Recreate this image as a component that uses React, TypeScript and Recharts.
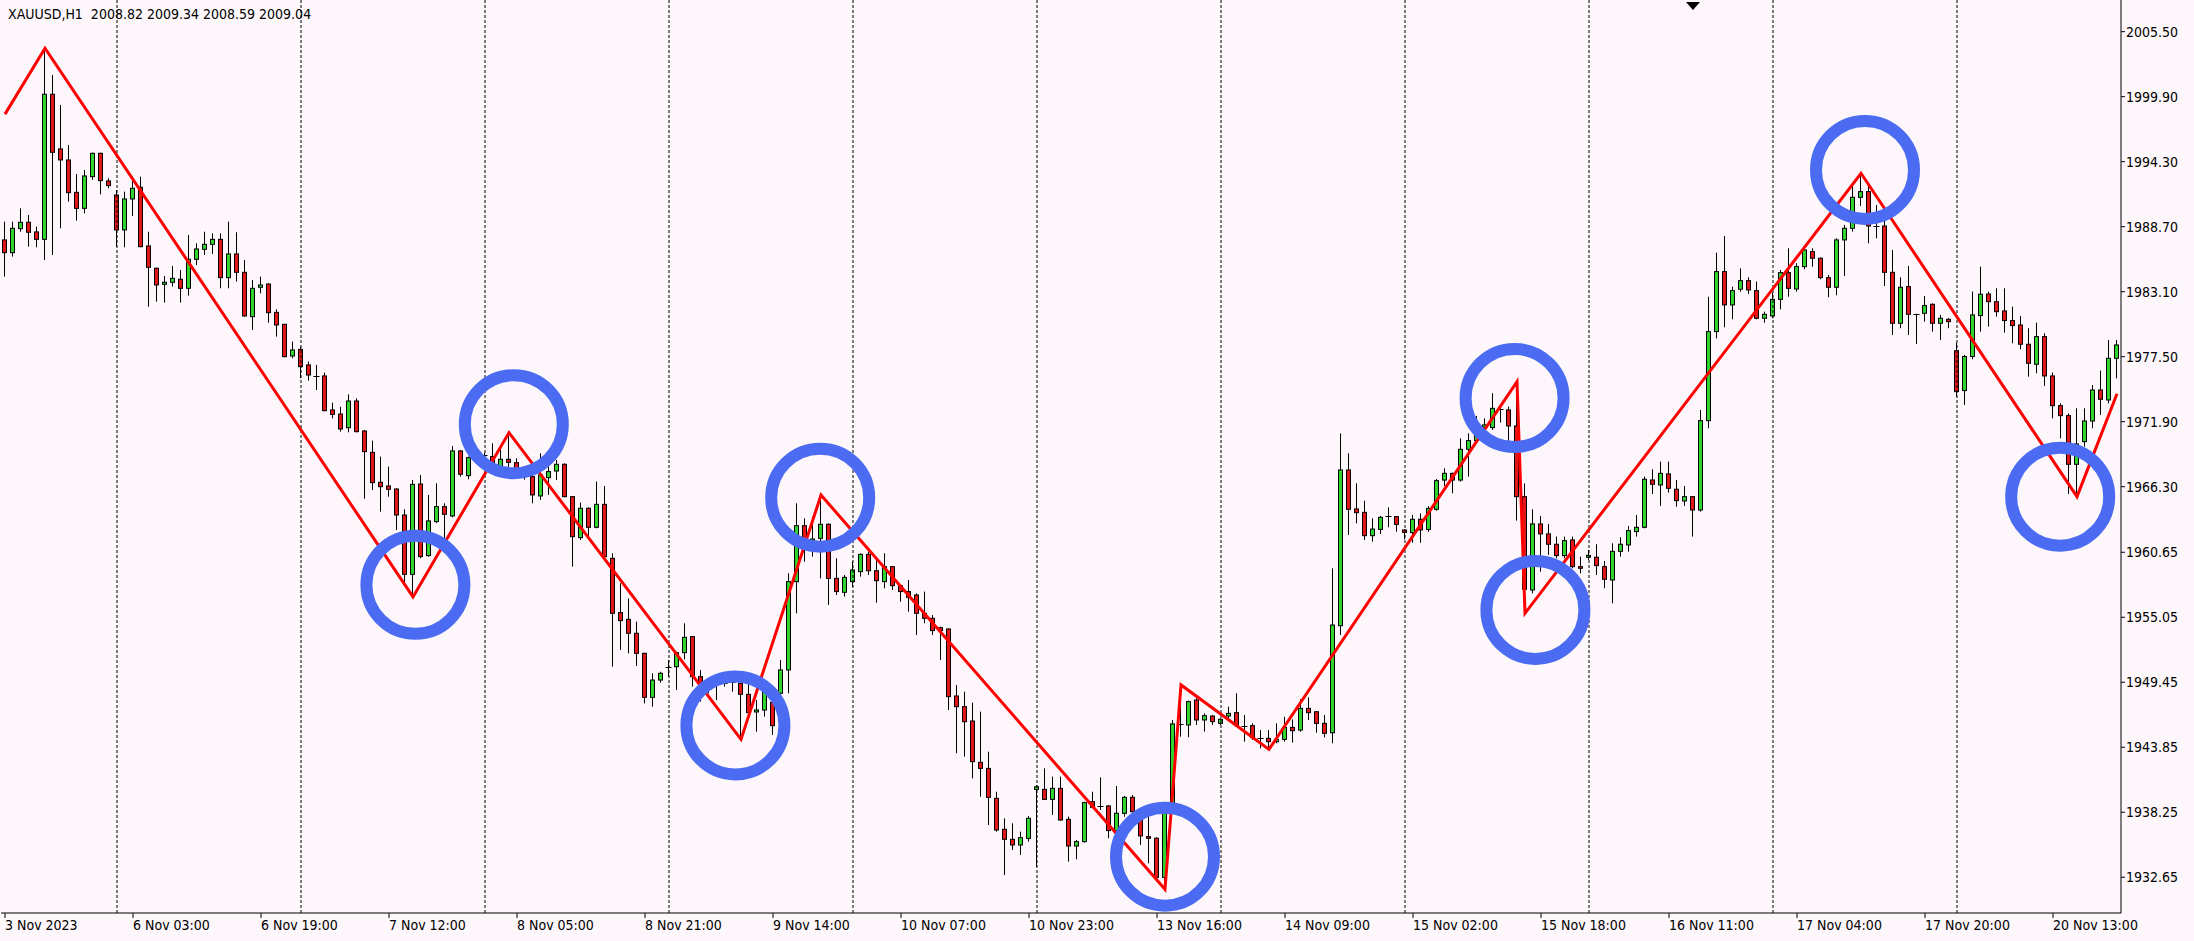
import { ComposedChart, Bar, Line, XAxis, YAxis, ReferenceLine, ReferenceDot } from 'recharts';

// XAUUSD H1, 3 Nov 10:00 .. 20 Nov 21:00 (one entry per hourly bar)
const OPEN = [
  1987.56, 1986.46, 1988.53, 1989.08, 1988.25, 1987.61, 2000.11, 1995.40, 1994.45, 1991.66,
  1990.28, 1993.01, 1995.02, 1992.64, 1991.43, 1988.42, 1991.09, 1992.09, 1987.04, 1985.12,
  1983.74, 1983.91, 1984.17, 1983.39, 1985.89, 1986.75, 1987.18, 1987.61, 1984.31, 1986.35,
  1984.77, 1980.95, 1983.48, 1983.76, 1981.32, 1980.29, 1977.56, 1978.13, 1976.79, 1975.87,
  1975.84, 1972.91, 1972.56, 1971.38, 1973.68, 1971.10, 1969.26, 1966.68, 1966.36, 1966.10,
  1963.86, 1958.75, 1966.53, 1960.36, 1963.29, 1964.58, 1963.78, 1969.38, 1967.25, 1968.80,
  1968.95, 1968.89, 1968.03, 1968.66, 1968.37, 1967.80, 1967.17, 1965.50, 1967.08, 1967.65,
  1968.23, 1965.44, 1961.91, 1964.44, 1962.80, 1964.78, 1960.13, 1955.45, 1954.87, 1953.67,
  1951.94, 1948.15, 1949.64, 1950.79, 1950.79, 1952.00, 1953.38, 1949.93, 1948.90, 1949.36,
  1949.41, 1949.41, 1949.36, 1948.41, 1946.89, 1947.06, 1947.72, 1948.50, 1950.51, 1958.12,
  1962.94, 1961.51, 1961.85, 1963.06, 1958.40, 1957.20, 1958.12, 1958.98, 1960.47, 1959.06,
  1958.12, 1959.41, 1957.77, 1957.26, 1956.97, 1955.39, 1954.96, 1954.15, 1954.04, 1948.27,
  1947.35, 1946.11, 1942.55, 1942.03, 1939.45, 1936.78, 1935.92, 1935.43, 1936.00, 1940.22,
  1940.22, 1939.36, 1940.31, 1937.64, 1935.34, 1935.72, 1939.16, 1938.76, 1938.79, 1936.67,
  1938.16, 1939.54, 1937.81, 1936.15, 1936.01, 1932.64, 1938.40, 1945.83, 1945.77, 1947.92,
  1946.20, 1946.54, 1945.91, 1946.54, 1946.83, 1945.71, 1945.71, 1944.67, 1944.62, 1944.33,
  1944.53, 1945.56, 1945.33, 1947.20, 1946.91, 1945.91, 1945.10, 1954.32, 1967.74, 1964.38,
  1964.09, 1962.08, 1962.62, 1963.71, 1963.72, 1962.57, 1962.34, 1963.49, 1962.62, 1964.35,
  1966.87, 1967.45, 1966.87, 1969.52, 1970.27, 1971.42, 1971.39, 1972.96, 1972.91, 1971.53,
  1965.44, 1957.40, 1963.09, 1962.23, 1961.34, 1960.36, 1961.71, 1959.41, 1960.22, 1960.22,
  1959.41, 1958.26, 1960.73, 1961.28, 1962.43, 1962.80, 1966.88, 1966.45, 1967.40, 1966.08,
  1965.07, 1965.44, 1964.29, 1971.99, 1979.66, 1984.83, 1981.96, 1983.31, 1984.05, 1983.19,
  1980.81, 1981.01, 1982.44, 1984.74, 1983.33, 1985.26, 1986.55, 1985.98, 1984.31, 1983.48,
  1987.56, 1988.56, 1991.23, 1991.72, 1988.76, 1988.76, 1984.77, 1980.38, 1983.54, 1981.15,
  1981.24, 1982.01, 1980.38, 1980.72, 1978.02, 1974.58, 1977.51, 1981.04, 1982.90, 1982.24,
  1981.44, 1980.61, 1980.23, 1978.57, 1976.85, 1979.23, 1975.84, 1973.28, 1972.42, 1968.23,
  1970.18, 1971.96, 1974.63, 1973.77, 1977.36,
];
const HIGH = [
  1989.13, 1989.13, 1990.28, 1989.71, 1988.70, 2004.07, 2001.77, 1999.19, 1995.74, 1993.24,
  1993.59, 1995.08, 1995.08, 1992.87, 1991.86, 1991.72, 1993.01, 1993.01, 1988.27, 1985.17,
  1984.45, 1985.32, 1984.97, 1987.99, 1987.27, 1988.27, 1988.13, 1988.13, 1989.13, 1988.22,
  1985.83, 1984.11, 1984.40, 1983.82, 1981.58, 1980.32, 1978.80, 1978.36, 1977.07, 1976.79,
  1976.12, 1973.54, 1973.19, 1974.26, 1973.91, 1971.18, 1970.27, 1968.89, 1968.03, 1966.16,
  1964.35, 1966.88, 1967.31, 1965.59, 1966.59, 1964.87, 1969.81, 1969.46, 1968.89, 1969.40,
  1969.23, 1970.04, 1969.61, 1970.96, 1968.75, 1968.00, 1967.31, 1969.18, 1968.03, 1968.60,
  1968.31, 1965.50, 1964.93, 1964.52, 1966.74, 1966.36, 1960.56, 1957.98, 1956.68, 1954.67,
  1952.00, 1950.22, 1950.36, 1951.37, 1952.09, 1954.53, 1953.44, 1950.51, 1949.30, 1949.50,
  1949.64, 1949.64, 1949.64, 1949.50, 1947.92, 1949.50, 1947.98, 1951.37, 1958.84, 1964.87,
  1963.57, 1963.72, 1965.58, 1963.14, 1960.13, 1958.69, 1959.84, 1960.56, 1960.70, 1959.98,
  1960.56, 1959.47, 1957.83, 1958.26, 1957.11, 1957.26, 1955.24, 1954.24, 1954.10, 1949.21,
  1948.64, 1947.69, 1946.92, 1943.47, 1940.02, 1937.73, 1937.30, 1936.58, 1937.93, 1940.60,
  1942.03, 1941.32, 1941.32, 1937.87, 1935.86, 1939.16, 1940.02, 1941.26, 1938.88, 1940.51,
  1939.65, 1939.74, 1937.93, 1937.93, 1936.09, 1938.36, 1946.20, 1949.22, 1947.87, 1948.07,
  1946.77, 1946.63, 1946.34, 1947.35, 1948.50, 1946.63, 1945.91, 1945.33, 1945.33, 1945.91,
  1946.48, 1946.25, 1947.98, 1948.15, 1946.97, 1946.63, 1959.26, 1970.89, 1969.17, 1966.59,
  1965.09, 1963.57, 1963.77, 1964.52, 1963.77, 1962.62, 1963.86, 1964.00, 1964.63, 1966.96,
  1967.88, 1967.51, 1970.46, 1970.90, 1972.40, 1972.19, 1974.35, 1973.20, 1973.20, 1975.35,
  1966.59, 1964.35, 1963.78, 1963.09, 1962.00, 1962.00, 1962.00, 1960.27, 1960.85, 1961.34,
  1959.90, 1961.42, 1961.94, 1962.92, 1963.86, 1967.17, 1967.80, 1968.46, 1968.46, 1966.88,
  1966.36, 1965.50, 1972.91, 1982.67, 1986.46, 1987.90, 1983.53, 1985.11, 1984.34, 1983.97,
  1981.38, 1983.02, 1984.97, 1986.84, 1985.55, 1986.98, 1986.84, 1986.06, 1984.54, 1987.70,
  1988.85, 1992.44, 1993.30, 1992.44, 1990.57, 1989.71, 1986.70, 1984.34, 1985.32, 1981.20,
  1982.73, 1982.10, 1981.10, 1980.81, 1978.71, 1977.65, 1983.11, 1985.26, 1983.11, 1983.39,
  1983.39, 1981.81, 1981.01, 1979.95, 1980.43, 1979.52, 1976.13, 1973.48, 1972.62, 1973.05,
  1973.05, 1975.06, 1976.30, 1978.94, 1978.94,
];
const LOW = [
  1984.40, 1986.12, 1988.27, 1986.98, 1986.92, 1985.83, 1986.26, 1988.56, 1990.86, 1989.22,
  1989.85, 1992.73, 1991.49, 1992.01, 1986.98, 1986.92, 1989.62, 1986.92, 1981.81, 1982.24,
  1982.16, 1983.54, 1982.16, 1982.76, 1985.40, 1986.26, 1986.35, 1983.39, 1983.39, 1983.97,
  1980.95, 1979.80, 1982.96, 1980.43, 1979.23, 1977.45, 1977.36, 1975.64, 1975.44, 1974.63,
  1972.79, 1972.19, 1971.04, 1970.98, 1970.98, 1965.26, 1966.01, 1964.15, 1965.44, 1962.57,
  1958.03, 1956.80, 1960.13, 1960.27, 1963.15, 1961.71, 1963.66, 1967.17, 1966.94, 1968.30,
  1968.60, 1967.74, 1967.88, 1967.74, 1967.60, 1966.90, 1964.87, 1965.16, 1965.59, 1966.88,
  1965.39, 1959.41, 1961.71, 1961.99, 1962.71, 1960.13, 1950.80, 1952.23, 1951.94, 1950.85,
  1947.63, 1947.35, 1949.41, 1949.93, 1948.78, 1951.43, 1949.07, 1947.78, 1948.50, 1947.92,
  1949.07, 1948.64, 1944.53, 1946.20, 1945.19, 1946.49, 1944.91, 1948.21, 1948.50, 1955.39,
  1959.84, 1960.27, 1958.40, 1956.11, 1956.97, 1956.83, 1957.69, 1958.55, 1958.69, 1956.31,
  1957.54, 1957.40, 1956.39, 1955.53, 1953.52, 1954.53, 1953.52, 1951.37, 1947.06, 1943.33,
  1943.04, 1941.17, 1939.59, 1937.15, 1936.58, 1932.84, 1935.00, 1934.57, 1935.72, 1933.56,
  1939.30, 1938.02, 1937.53, 1933.99, 1934.20, 1935.63, 1938.59, 1938.45, 1936.01, 1936.58,
  1937.87, 1938.22, 1935.43, 1933.85, 1932.56, 1931.61, 1938.30, 1944.76, 1944.71, 1945.77,
  1945.20, 1945.77, 1945.77, 1946.34, 1945.63, 1944.33, 1944.48, 1943.75, 1943.67, 1944.19,
  1944.33, 1944.25, 1945.19, 1946.20, 1945.10, 1944.70, 1944.19, 1953.52, 1962.14, 1963.14,
  1961.71, 1961.56, 1962.22, 1962.80, 1962.42, 1961.76, 1961.47, 1961.47, 1962.42, 1964.23,
  1966.36, 1965.73, 1966.73, 1967.17, 1970.10, 1971.19, 1971.19, 1971.82, 1970.04, 1963.38,
  1955.39, 1957.11, 1958.98, 1960.42, 1960.13, 1960.13, 1959.27, 1958.84, 1959.99, 1958.69,
  1957.55, 1956.25, 1960.27, 1960.70, 1962.00, 1962.71, 1965.67, 1964.64, 1965.79, 1964.58,
  1964.64, 1962.00, 1964.15, 1971.33, 1979.08, 1980.03, 1980.72, 1983.10, 1982.90, 1980.72,
  1980.43, 1980.81, 1981.58, 1982.67, 1983.10, 1985.03, 1985.26, 1984.17, 1982.62, 1982.79,
  1984.45, 1988.27, 1990.49, 1987.27, 1987.70, 1983.59, 1979.37, 1979.95, 1979.37, 1978.60,
  1980.52, 1979.66, 1978.94, 1979.95, 1974.06, 1973.34, 1977.28, 1979.66, 1980.09, 1980.95,
  1979.57, 1978.65, 1978.14, 1975.78, 1976.07, 1974.98, 1972.19, 1970.47, 1965.67, 1965.44,
  1969.75, 1971.33, 1972.48, 1973.48, 1975.64,
];
const CLOSE = [
  1986.46, 1988.56, 1989.08, 1988.22, 1987.61, 2000.11, 1995.11, 1994.45, 1991.63, 1990.28,
  1993.07, 1995.02, 1992.67, 1992.24, 1988.42, 1991.09, 1992.01, 1986.98, 1985.20, 1983.68,
  1983.91, 1984.25, 1983.39, 1985.89, 1986.78, 1987.18, 1987.61, 1984.31, 1986.35, 1984.77,
  1981.01, 1983.39, 1983.68, 1981.29, 1980.23, 1977.50, 1978.08, 1976.64, 1975.92, 1975.84,
  1972.85, 1972.53, 1971.27, 1973.68, 1971.04, 1969.32, 1966.65, 1966.30, 1966.07, 1963.86,
  1958.75, 1966.50, 1960.27, 1963.35, 1964.58, 1963.92, 1969.38, 1967.37, 1968.80, 1969.00,
  1969.00, 1968.23, 1968.66, 1968.40, 1967.80, 1967.17, 1965.59, 1967.31, 1967.60, 1968.23,
  1965.44, 1961.99, 1964.44, 1962.80, 1964.78, 1960.27, 1955.39, 1954.76, 1953.67, 1951.94,
  1948.15, 1949.64, 1950.22, 1950.76, 1952.00, 1953.32, 1949.93, 1949.30, 1948.85, 1949.30,
  1949.38, 1949.44, 1948.41, 1946.83, 1947.06, 1948.70, 1945.71, 1950.51, 1958.12, 1962.94,
  1961.71, 1961.79, 1963.06, 1958.40, 1957.26, 1958.49, 1959.12, 1960.47, 1959.06, 1958.20,
  1959.41, 1957.77, 1957.26, 1956.77, 1955.39, 1954.96, 1953.90, 1953.90, 1948.21, 1947.35,
  1946.05, 1942.61, 1942.03, 1939.53, 1936.72, 1935.92, 1935.43, 1936.06, 1937.73, 1940.45,
  1939.36, 1940.31, 1937.58, 1935.34, 1935.72, 1939.08, 1938.68, 1938.72, 1936.67, 1938.16,
  1939.54, 1938.30, 1936.21, 1936.01, 1932.64, 1938.30, 1945.86, 1945.80, 1947.78, 1946.20,
  1946.57, 1946.06, 1946.26, 1946.77, 1945.71, 1945.68, 1944.68, 1944.64, 1944.33, 1944.53,
  1945.56, 1945.28, 1947.20, 1946.83, 1945.91, 1945.05, 1954.38, 1967.74, 1964.35, 1964.06,
  1962.08, 1962.65, 1963.66, 1963.74, 1963.05, 1962.36, 1963.49, 1962.57, 1964.43, 1966.82,
  1967.45, 1966.87, 1969.52, 1970.27, 1971.42, 1971.62, 1973.05, 1973.00, 1971.53, 1965.44,
  1957.46, 1963.09, 1962.23, 1961.34, 1960.36, 1961.65, 1959.41, 1959.27, 1960.39, 1959.50,
  1958.32, 1960.73, 1961.34, 1962.51, 1962.80, 1966.94, 1966.51, 1967.45, 1966.16, 1965.10,
  1965.44, 1964.29, 1971.99, 1979.66, 1984.83, 1981.96, 1983.19, 1984.05, 1983.25, 1980.81,
  1981.15, 1982.44, 1984.74, 1983.39, 1985.26, 1986.69, 1985.98, 1984.31, 1983.48, 1987.56,
  1988.56, 1991.23, 1991.72, 1988.76, 1988.65, 1984.77, 1980.38, 1983.48, 1981.15, 1981.10,
  1981.90, 1980.38, 1980.81, 1980.52, 1974.49, 1977.51, 1981.10, 1982.88, 1982.24, 1981.38,
  1980.61, 1980.18, 1978.57, 1976.93, 1979.23, 1975.84, 1973.28, 1972.42, 1968.23, 1969.98,
  1971.96, 1974.63, 1973.83, 1977.36, 1978.51,
];

// zigzag vertices (bar index, price)
const ZZ_INDEX = [0, 5, 51, 63, 92, 102, 145, 147, 158, 189, 190, 232, 259, 264];
const ZZ_PRICE = [1998.4, 2004.07, 1956.8, 1970.96, 1944.53, 1965.58, 1931.61, 1949.22, 1943.67, 1975.35, 1955.39, 1993.3, 1965.44, 1974.3];

// blue rings drawn around swing points
const CIRCLE_X = [51.3, 63.6, 91.3, 101.9, 145.0, 188.7, 191.3, 232.5, 256.9];
const CIRCLE_Y = [1957.84, 1971.68, 1945.73, 1965.35, 1934.42, 1973.94, 1955.68, 1993.59, 1965.44];

// first bar of each trading day
const SEPARATORS = [14, 37, 60, 83, 106, 129, 152, 175, 198, 221, 244];

const X_TICKS = [0, 16, 32, 48, 64, 80, 96, 112, 128, 144, 160, 176, 192, 208, 224, 240, 256];
const X_TICK_LABELS = [
  '3 Nov 2023', '6 Nov 03:00', '6 Nov 19:00', '7 Nov 12:00', '8 Nov 05:00', '8 Nov 21:00',
  '9 Nov 14:00', '10 Nov 07:00', '10 Nov 23:00', '13 Nov 16:00', '14 Nov 09:00', '15 Nov 02:00',
  '15 Nov 18:00', '16 Nov 11:00', '17 Nov 04:00', '17 Nov 20:00', '20 Nov 13:00',
];
const Y_TICKS = [2005.5, 1999.9, 1994.3, 1988.7, 1983.1, 1977.5, 1971.9, 1966.3, 1960.65, 1955.05, 1949.45, 1943.85, 1938.25, 1932.65];
const Y_MIN = 1929.57;
const Y_MAX = 2008.23;

const BG = '#fdf7fb';
const UP = '#2fd42f';
const DOWN = '#e41515';
const RING = '#4b6cf2';
const FONT = "'DejaVu Sans Condensed', 'Liberation Sans', sans-serif";

const data = OPEN.map((o, i) => {
  const z = ZZ_INDEX.indexOf(i);
  return { i, o, h: HIGH[i], l: LOW[i], c: CLOSE[i], zz: z >= 0 ? ZZ_PRICE[z] : null };
});

function Candle(props: any) {
  const { x, y, width, height, payload } = props;
  const { o, h, l, c } = payload;
  const top = Math.min(y, y + height);
  const span = Math.abs(height);
  const py = (p: number) => top + ((h - p) / (h - l)) * span;
  const cx = Math.floor(x + width / 2) + 0.5;
  const yO = py(o);
  const yC = py(c);
  const bTop = Math.min(yO, yC);
  const bBot = Math.max(yO, yC);
  const flat = bBot - bTop < 1.5;
  return (
    <g>
      <line x1={cx} x2={cx} y1={top} y2={top + span} stroke="#000" strokeWidth={1} />
      {flat ? (
        <line x1={cx - 3} x2={cx + 3} y1={Math.round(bTop) + 0.5} y2={Math.round(bTop) + 0.5} stroke="#000" strokeWidth={1} />
      ) : (
        <rect x={cx - 2} y={bTop} width={4} height={bBot - bTop} fill={c >= o ? UP : DOWN} stroke="#000" strokeWidth={1} />
      )}
    </g>
  );
}

function XTick(props: any) {
  const { x, y, payload } = props;
  const label = X_TICK_LABELS[X_TICKS.indexOf(payload.value)];
  return (
    <text x={x} y={y + 10} textAnchor="start" fill="#000" fontSize={14} fontFamily={FONT}>
      {label}
    </text>
  );
}

function ShiftMark(props: any) {
  const { cx, cy } = props;
  return <polygon points={`${cx - 7},${cy + 2} ${cx + 7},${cy + 2} ${cx},${cy + 10}`} fill="#000" />;
}

export default function App() {
  return (
    <div style={{ position: 'absolute', left: 0, top: 0, width: 2194, height: 941, background: BG }}>
      <ComposedChart width={2194} height={941} data={data} margin={{ top: 0, right: 0, bottom: 0, left: 1 }}>
        {CIRCLE_X.map((cx, n) => (
          <ReferenceDot key={'c' + n} x={cx} y={CIRCLE_Y[n]} r={49} fill="none" stroke={RING} strokeWidth={12} />
        ))}
        {SEPARATORS.map((s) => (
          <ReferenceLine key={'s' + s} x={s} stroke="#000" strokeDasharray="3 2" strokeWidth={1} />
        ))}
        <XAxis
          dataKey="i"
          type="number"
          domain={[-0.5, 264.5]}
          ticks={X_TICKS}
          interval={0}
          allowDataOverflow
          height={28}
          axisLine={{ stroke: '#000' }}
          tickLine={{ stroke: '#000' }}
          tickSize={5}
          tickMargin={2}
          tick={<XTick />}
        />
        <YAxis
          orientation="right"
          type="number"
          domain={[Y_MIN, Y_MAX]}
          ticks={Y_TICKS}
          interval={0}
          allowDataOverflow
          width={73}
          axisLine={{ stroke: '#000' }}
          tickLine={{ stroke: '#000' }}
          tickSize={4}
          tickMargin={1}
          tickFormatter={(v: number) => v.toFixed(2)}
          tick={{ fill: '#000', fontSize: 14, fontFamily: FONT }}
        />
        <Bar dataKey={(d: any) => [d.l, d.h]} shape={<Candle />} barSize={5} isAnimationActive={false} />
        <Line
          dataKey="zz"
          type="linear"
          stroke="#ff0000"
          strokeWidth={3}
          dot={false}
          activeDot={false}
          connectNulls
          isAnimationActive={false}
        />
        <ReferenceDot x={211} y={Y_MAX} r={1} ifOverflow="visible" shape={<ShiftMark />} />
      </ComposedChart>
      <div style={{ position: 'absolute', left: 8, top: 6, fontSize: 14, fontFamily: FONT, color: '#000', whiteSpace: 'pre' }}>
        XAUUSD,H1  2008.82 2009.34 2008.59 2009.04
      </div>
    </div>
  );
}
